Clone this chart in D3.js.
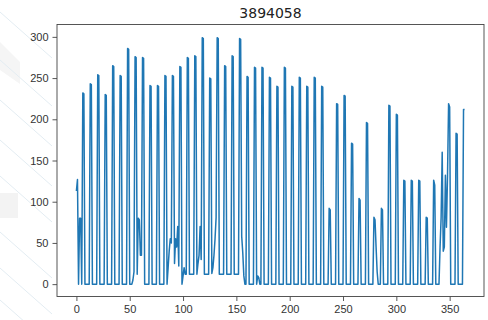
<!DOCTYPE html>
<html>
<head>
<meta charset="utf-8">
<script src="https://cdn.jsdelivr.net/npm/d3@7"></script>
<style>
  body { margin: 0; background: #fff; }
  svg { display: block; font-family: "DejaVu Sans", sans-serif; }
</style>
</head>
<body>
<div id="chart"></div>
<script>
const chartTitle = "3894058";
const xTicks = [0, 50, 100, 150, 200, 250, 300, 350];
const yTicks = [0, 50, 100, 150, 200, 250, 300];

// one value per day (365 days), written out week by week
const dailyValues = [
  113, 127, 0, 80, 80, 0,
  232, 231, 0, 0, 0, 0, 0,
  243, 242, 0, 0, 0, 0, 0,
  254, 253, 0, 0, 0, 0, 0,
  230, 229, 0, 0, 0, 0, 0,
  265, 264, 0, 0, 0, 0, 0,
  253, 252, 0, 0, 0, 0, 0,
  286, 285, 0, 0, 0, 5, 15,
  276, 275, 12, 80, 78, 35, 35,
  275, 274, 0, 0, 0, 0, 0,
  241, 240, 0, 0, 0, 0, 0,
  241, 240, 0, 0, 0, 0, 0,
  253, 252, 0, 20, 40, 55, 50,
  253, 252, 25, 55, 45, 70, 22,
  264, 263, 0, 10, 20, 12, 12,
  275, 274, 12, 12, 12, 12, 12,
  277, 276, 12, 25, 35, 70, 30,
  299, 298, 12, 12, 12, 12, 12,
  250, 249, 13, 20, 35, 55, 81,
  299, 298, 12, 12, 12, 12, 12,
  265, 264, 12, 12, 12, 12, 12,
  277, 276, 12, 12, 12, 12, 12,
  298, 297, 58, 38, 10, 0, 0,
  252, 251, 0, 0, 0, 0, 0,
  263, 262, 0, 10, 8, 0, 0,
  263, 262, 0, 0, 0, 0, 0,
  251, 250, 0, 0, 0, 0, 0,
  240, 239, 0, 0, 0, 0, 0,
  263, 262, 0, 0, 0, 0, 0,
  240, 239, 0, 0, 0, 0, 0,
  251, 250, 0, 0, 0, 0, 0,
  240, 239, 0, 0, 0, 0, 0,
  251, 250, 0, 0, 0, 0, 0,
  240, 239, 0, 0, 0, 0, 0,
  92, 90, 0, 0, 0, 0, 0,
  219, 218, 0, 0, 0, 0, 0,
  229, 228, 0, 0, 0, 0, 0,
  171, 170, 0, 0, 0, 0, 0,
  104, 102, 0, 0, 0, 0, 0,
  196, 195, 0, 0, 0, 0, 0,
  81, 78, 45, 15, 0, 0, 0,
  92, 90, 0, 0, 0, 0, 0,
  217, 216, 0, 0, 0, 0, 0,
  206, 205, 0, 0, 0, 0, 0,
  126, 125, 0, 0, 0, 0, 0,
  126, 125, 0, 0, 0, 0, 0,
  126, 125, 0, 0, 0, 0, 0,
  81, 80, 0, 0, 0, 0, 0,
  126, 120, 0, 0, 0, 0, 45,
  81, 160, 40, 45, 132, 69, 132,
  219, 215, 0, 0, 0, 0, 0,
  183, 182, 0, 0, 0, 0, 0,
  212, 212
];

const width = 488, height = 320;
const plot = { left: 57, right: 484, top: 24.5, bottom: 296.5 };

const svg = d3.select("#chart").append("svg")
  .attr("width", width)
  .attr("height", height);

// faint background decoration at the left edge
const deco = svg.append("g");
deco.append("rect").attr("x", 0).attr("y", 193).attr("width", 18).attr("height", 25).attr("fill", "#f3f3f3");
deco.append("path").attr("d", "M0,42 L20,62 L20,84 L0,70 Z").attr("fill", "#f5f5f5");
[12, 60, 100, 140, 176, 232, 268, 300].forEach(y0 => {
  deco.append("line")
    .attr("x1", 0).attr("y1", y0)
    .attr("x2", 52).attr("y2", y0 + 46)
    .attr("stroke", "#e3ecf2").attr("stroke-width", 1);
});

const n = dailyValues.length;
const x = d3.scaleLinear()
  .domain([-(n - 1) * 0.05, (n - 1) * 1.05])
  .range([plot.left, plot.right]);
const y = d3.scaleLinear()
  .domain([-15, 315])
  .range([plot.bottom, plot.top]);

// axes
const xAxis = d3.axisBottom(x).tickValues(xTicks).tickSize(4.5).tickPadding(4);
const yAxis = d3.axisLeft(y).tickValues(yTicks).tickSize(4.5).tickPadding(4);

const gx = svg.append("g")
  .attr("transform", `translate(0,${plot.bottom})`)
  .call(xAxis);
const gy = svg.append("g")
  .attr("transform", `translate(${plot.left},0)`)
  .call(yAxis);

[gx, gy].forEach(g => {
  g.select(".domain").remove();
  g.selectAll(".tick line").attr("stroke", "#444").attr("stroke-width", 0.9);
  g.selectAll(".tick text").attr("fill", "#333").style("font-size", "11px");
});

// the series
const line = d3.line()
  .x((d, i) => x(i))
  .y(d => y(d));

svg.append("path")
  .datum(dailyValues)
  .attr("fill", "none")
  .attr("stroke", "#1f77b4")
  .attr("stroke-width", 1.5)
  .attr("stroke-linejoin", "round")
  .attr("d", line);

// frame
svg.append("rect")
  .attr("x", plot.left).attr("y", plot.top)
  .attr("width", plot.right - plot.left)
  .attr("height", plot.bottom - plot.top)
  .attr("fill", "none")
  .attr("stroke", "#444")
  .attr("stroke-width", 0.9);

svg.append("text")
  .attr("x", (plot.left + plot.right) / 2)
  .attr("y", 18)
  .attr("text-anchor", "middle")
  .attr("fill", "#222")
  .style("font-size", "14px")
  .text(chartTitle);
</script>
</body>
</html>
